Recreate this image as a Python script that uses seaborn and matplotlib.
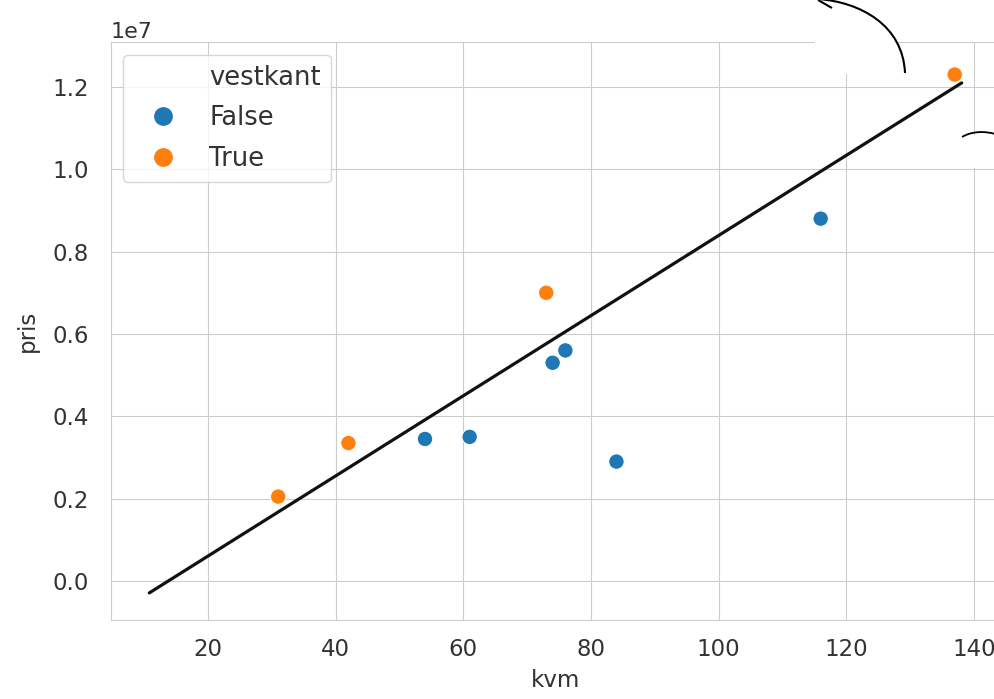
import numpy as np
import matplotlib
matplotlib.use('Agg')
import matplotlib.pyplot as plt
import seaborn as sns
from matplotlib.lines import Line2D
from matplotlib.patches import Rectangle, PathPatch
from matplotlib.path import Path

# data
kvm = [31, 42, 54, 61, 73, 74, 76, 84, 116, 137]
pris = [2050000, 3350000, 3450000, 3500000, 7000000, 5300000, 5600000, 2900000, 8800000, 12300000]
vestkant = [True, True, False, False, True, False, False, False, False, True]

# fitted line (slope / intercept) and its x range
coef = 97300
intercept = -1340000
line_kvm = np.array([10.8, 138.1])
line_pris = intercept + coef * line_kvm

sns.set_style('whitegrid')
plt.rcParams['font.family'] = ['DejaVu Sans']

W, H = 994, 699
fig = plt.figure(figsize=(W / 100, H / 100), dpi=100)
ax = fig.add_axes([111 / W, 79 / H, 889 / W, 578 / H])

sns.lineplot(x=line_kvm, y=line_pris, color='#111111', linewidth=2.3, ax=ax)
sns.scatterplot(x=kvm, y=pris, hue=vestkant, hue_order=[False, True],
                palette=['#1f77b4', '#ff7f0e'], s=125, edgecolor='white',
                linewidth=0.8, legend=False, ax=ax, zorder=3)

ax.set_xlim(4.8, 144.1)
ax.set_ylim(-947000, 13090000)
ax.set_xticks([20, 40, 60, 80, 100, 120, 140])
ax.set_yticks(np.arange(0, 1.3e7, 2e6))
ax.ticklabel_format(axis='y', style='sci', scilimits=(7, 7))
ax.yaxis.get_offset_text().set_fontsize(16)
ax.yaxis.get_offset_text().set_color('#333333')
ax.tick_params(axis='y', labelsize=16.5, labelcolor='#333333', length=0, pad=16)
ax.tick_params(axis='x', labelsize=16.5, labelcolor='#333333', length=0, pad=13)
ax.set_xlabel('kvm', fontsize=16.5, color='#333333', labelpad=6)
ax.set_ylabel('pris', fontsize=16.5, color='#333333', labelpad=10)

# legend in the old seaborn style: hue name as a blank first entry
handles = [Line2D([], [], linestyle='none'),
           Line2D([], [], marker='o', linestyle='none', color='#1f77b4', markersize=12.5),
           Line2D([], [], marker='o', linestyle='none', color='#ff7f0e', markersize=12.5)]
labels = ['vestkant', 'False', 'True']
leg = ax.legend(handles, labels, loc='upper left', bbox_to_anchor=(0.0135, 0.9775),
                borderaxespad=0, fontsize=18.5, frameon=True, handletextpad=0.62,
                labelspacing=0.55, borderpad=0.4, handlelength=2.33)
for t in leg.get_texts():
    t.set_color('#333333')

# white patches and hand drawn strokes from the screenshot
def px(x, y):
    return (x / W, 1 - y / H)

for x0, y0, x1, y1 in [(815, 0, 898, 74), (966, 135, 994, 168)]:
    fig.patches.append(Rectangle(px(x0, y1), (x1 - x0) / W, (y1 - y0) / H,
                                 transform=fig.transFigure, facecolor='white',
                                 edgecolor='none', zorder=5))

arc = Path([px(905, 73), px(903, 25), px(860, 2), px(818, -1)],
           [Path.MOVETO, Path.CURVE4, Path.CURVE4, Path.CURVE4])
fig.patches.append(PathPatch(arc, transform=fig.transFigure, fill=False,
                             edgecolor='black', linewidth=1.5, zorder=6))
barb = Path([px(832, 8), px(818, 0)], [Path.MOVETO, Path.LINETO])
fig.patches.append(PathPatch(barb, transform=fig.transFigure, fill=False,
                             edgecolor='black', linewidth=1.5, zorder=6))
arc2 = Path([px(962, 137), px(972, 131), px(985, 131), px(995, 134)],
            [Path.MOVETO, Path.CURVE4, Path.CURVE4, Path.CURVE4])
fig.patches.append(PathPatch(arc2, transform=fig.transFigure, fill=False,
                             edgecolor='black', linewidth=1.3, zorder=6))

fig.savefig('out.png', dpi=100)
